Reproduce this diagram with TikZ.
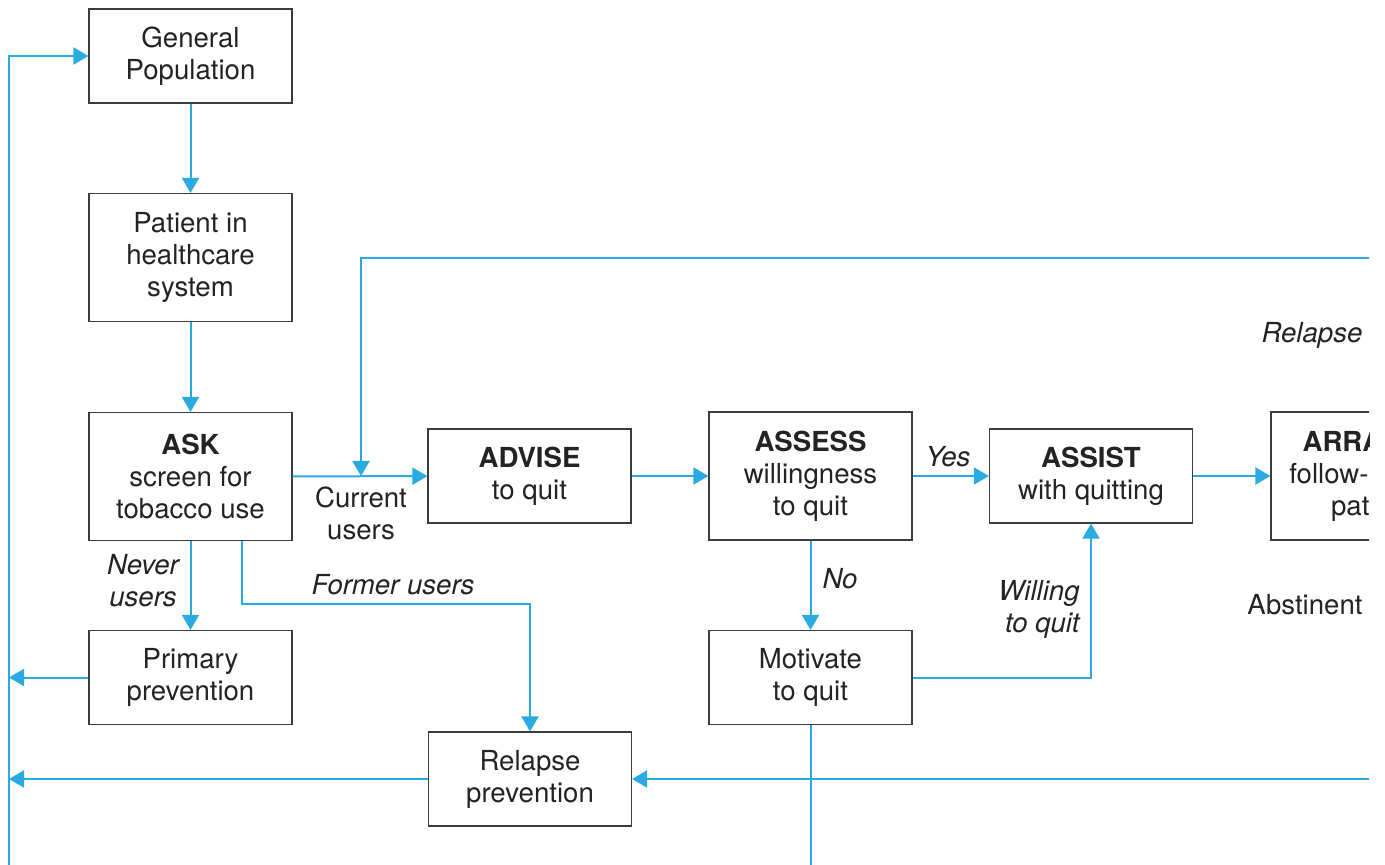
\documentclass[tikz,border=0pt]{standalone}
\usepackage{fontspec}
\setmainfont{TeX Gyre Heros}
\usetikzlibrary{arrows.meta}
\definecolor{flowblue}{RGB}{41,171,226}
\definecolor{boxgray}{RGB}{60,60,60}
\definecolor{txtgray}{RGB}{35,35,35}

\begin{document}
\begin{tikzpicture}[x=0.5pt, y=-0.5pt,
    every node/.style={font=\fontsize{13.8}{16}\selectfont, text=txtgray},
    box/.style={draw=boxgray, line width=0.6pt, fill=white, minimum width=101.5pt,
        minimum height=47pt, align=center, inner sep=2pt,
        execute at begin node={\rule{0pt}{13pt}}},
    tall/.style={minimum height=64pt},
    lbl/.style={align=center, inner sep=0pt, font=\fontsize{13.8}{16}\selectfont\itshape},
    plain/.style={align=center, inner sep=0pt},
    flow/.style={draw=flowblue, line width=1pt, -{Triangle[length=7.5pt,width=8.5pt]}},
    wire/.style={draw=flowblue, line width=1pt}]
    \useasboundingbox (0,0) rectangle (1385,865);
    \clip (0,0) rectangle (1369,865);

    % Блоки
    \node[box] (gen) at (190.5,56) {General\\Population};
    \node[box, tall] (pat) at (190.5,257.5) {Patient in\\healthcare\\system};
    \node[box, tall] (ask) at (190.5,476.5) {\textbf{ASK}\\screen for\\tobacco use};
    \node[box] (prim) at (190.5,677.5) {Primary\\prevention};
    \node[box] (adv) at (529.5,476) {\textbf{ADVISE}\\to quit};
    \node[box, tall] (asm) at (810.5,476) {\textbf{ASSESS}\\willingness\\to quit};
    \node[box] (mot) at (810.5,677.5) {Motivate\\to quit};
    \node[box] (asst) at (1091,476) {\textbf{ASSIST}\\with quitting};
    \node[box, tall] (arr) at (1372.5,476) {\textbf{ARRANGE}\\follow-up with\\patient};
    \node[box] (rel) at (530,779) {Relapse\\prevention};

    % Точки
    \coordinate (lbot) at (9,870);
    \coordinate (topR) at (1400,258);
    \coordinate (cu) at (361,476);
    \coordinate (askf) at (242,540.5);
    \coordinate (fmr) at (530,604);
    \coordinate (motB) at (810.5,870);
    \coordinate (relR) at (1400,779);

    % Стрелки
    \draw[flow] (lbot) |- (gen.west);
    \draw[flow] (gen) -- (pat);
    \draw[flow] (pat) -- (ask);
    \draw[flow] (ask) -- (adv);
    \draw[flow] (topR) -| (cu);
    \draw[flow] (ask) -- (prim);
    \draw[flow] (askf) |- (fmr) -- (rel);
    \draw[flow] (prim) -- (prim -| lbot);
    \draw[flow] (rel) -- (rel -| lbot);
    \draw[flow] (adv) -- (asm);
    \draw[flow] (asm) -- (asst);
    \draw[flow] (asm) -- (mot);
    \draw[flow] (mot.east) -| (asst.south);
    \draw[wire] (mot) -- (motB);
    \draw[flow] (asst) -- (arr);
    \draw[flow] (relR) -- (rel);

    % Подписи
    \node[plain] (cur) at (361,513) {Current\\users};
    \node[lbl] (never) at (143,581) {Never\\users};
    \node[lbl] (former) at (393,585) {Former users};
    \node[lbl] (yes) at (948,457) {Yes};
    \node[lbl] (no) at (840,579) {No};
    \node[lbl, align=right] (will) at (1039,609) {Willing\\to quit};
    \node[lbl] (relapse) at (1312,335) {Relapse};
    \node[plain] (abst) at (1305,605) {Abstinent};
\end{tikzpicture}
\end{document}
